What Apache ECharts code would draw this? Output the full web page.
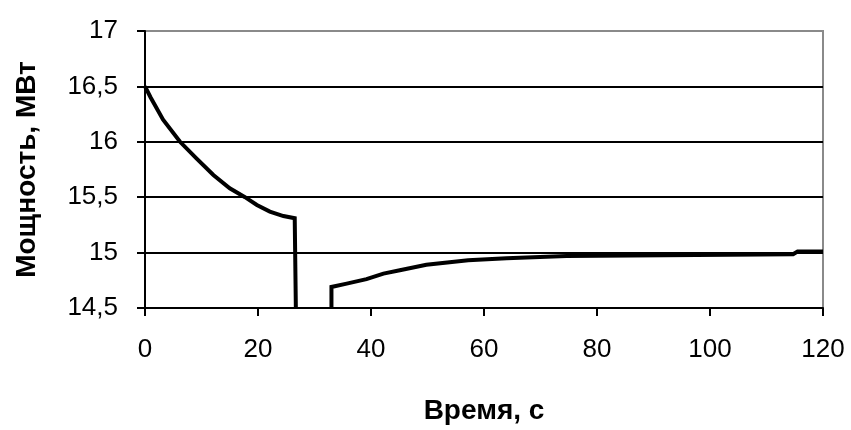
<!DOCTYPE html>
<html>
<head>
<meta charset="utf-8">
<script src="https://cdn.jsdelivr.net/npm/echarts@6/dist/echarts.min.js"></script>
<style>
  html, body { margin: 0; padding: 0; background: #fff; }
  #graph01 { width: 851px; height: 430px; }
</style>
</head>
<body>
<div id="graph01"></div>
<script>
// time, s
var timeS = [0, 1, 3.2, 6.2, 9.1, 12.1, 15, 17.7, 19.8, 22.1, 24.5, 26.5, 26.7, 26.7,
  30,
  33, 33, 35.7, 39.2, 42.2, 45.1, 49.8, 57.2, 64, 74.6, 114.7, 115.5, 120];
// power, MW (null = break in the curve)
var powerMW = [16.5, 16.4, 16.2, 16.0, 15.85, 15.7, 15.58, 15.5, 15.43, 15.37, 15.33, 15.31, 15.31, 14.5,
  null,
  14.5, 14.69, 14.72, 14.76, 14.81, 14.84, 14.89, 14.93, 14.95, 14.97, 14.985, 15.01, 15.01];

var xTicks = [0, 20, 40, 60, 80, 100, 120];
var yTicks = [14.5, 15, 15.5, 16, 16.5, 17];

var seriesData = timeS.map(function (t, i) {
  return [t, powerMW[i] === null ? '-' : powerMW[i]];
});

var myChart = echarts.init(document.getElementById('graph01'));
var labelFont = { color: '#000', fontSize: 26, fontFamily: 'Liberation Sans' };
var titleFont = { color: '#000', fontSize: 28, fontWeight: 'bold', fontFamily: 'Liberation Sans', verticalAlign: 'middle' };
var option = {
  animation: false,
  grid: {
    left: 145, right: 28, top: 31, bottom: 119,
    show: true, borderColor: '#8a8a8a', borderWidth: 2
  },
  xAxis: {
    type: 'value',
    min: xTicks[0], max: xTicks[xTicks.length - 1], interval: 20,
    name: 'Время, с',
    nameLocation: 'middle',
    nameGap: 103,
    nameTextStyle: titleFont,
    axisLine: { lineStyle: { color: '#000', width: 2 } },
    axisTick: { show: true, inside: false, length: 8, lineStyle: { color: '#000', width: 2 } },
    axisLabel: Object.assign({ margin: 29 }, labelFont),
    splitLine: { show: false }
  },
  yAxis: {
    type: 'value',
    min: yTicks[0], max: yTicks[yTicks.length - 1], interval: 0.5,
    name: 'Мощность, МВт',
    nameLocation: 'middle',
    nameGap: 118,
    nameTextStyle: titleFont,
    axisLine: { show: true, lineStyle: { color: '#000', width: 2 } },
    axisTick: { show: true, length: 8, lineStyle: { color: '#000', width: 2 } },
    axisLabel: Object.assign({
      margin: 27,
      formatter: function (v) { return String(v).replace('.', ','); }
    }, labelFont),
    splitLine: {
      show: true,
      lineStyle: { color: ['#000', '#000', '#000', '#000', '#000', '#8a8a8a'], width: 2 }
    }
  },
  series: [{
    type: 'line',
    data: seriesData,
    showSymbol: false,
    connectNulls: false,
    clip: true,
    lineStyle: { color: '#000', width: 4, join: 'miter' }
  }]
};
myChart.setOption(option);
</script>
</body>
</html>
